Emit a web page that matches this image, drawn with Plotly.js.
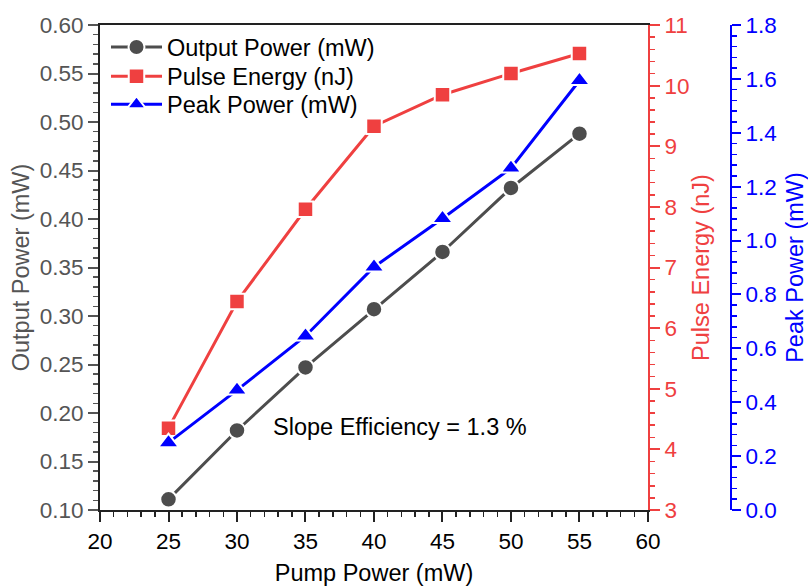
<!DOCTYPE html>
<html><head><meta charset="utf-8">
<script src="https://cdn.plot.ly/plotly-3.0.1.min.js"></script>
<style>body{margin:0;padding:0;background:#fff}#chart{width:808px;height:586px}</style>
</head><body><div id="chart"></div>
<script>
const pumpPower = [25, 30, 35, 40, 45, 50, 55];
const outputPower = [0.111, 0.182, 0.247, 0.307, 0.366, 0.432, 0.488];
const pulseEnergy = [4.35, 6.44, 7.96, 9.33, 9.85, 10.20, 10.53];
const peakPower = [0.25, 0.445, 0.646, 0.902, 1.082, 1.269, 1.594];
const seriesNames = ['Output Power (mW)', 'Pulse Energy (nJ)', 'Peak Power (mW)'];
const annotationText = 'Slope Efficiency = 1.3 %';

const FONT = 'Liberation Sans, Arial, sans-serif';
const GRAY = '#4d4d4d', RED = '#ef4040', BLUE = '#0000ff';
const TICK = 22.5, TXT = 23.5;

const traces = [
  {x: pumpPower, y: outputPower, name: seriesNames[0], type: 'scatter', mode: 'lines+markers', yaxis: 'y', legend: 'legend',
   line: {color: GRAY, width: 3}, marker: {symbol: 'circle', size: 16.5, color: GRAY, line: {color: '#fff', width: 2}}},
  {x: pumpPower, y: pulseEnergy, name: seriesNames[1], type: 'scatter', mode: 'lines+markers', yaxis: 'y2', legend: 'legend2',
   line: {color: RED, width: 3}, marker: {symbol: 'square', size: 15.5, color: RED, line: {color: '#fff', width: 2}}},
  {x: pumpPower, y: peakPower, name: seriesNames[2], type: 'scatter', mode: 'lines+markers', yaxis: 'y3', legend: 'legend3',
   line: {color: BLUE, width: 3}, marker: {symbol: 'triangle-up', size: 18, color: BLUE, line: {color: '#fff', width: 2}}}
];

function leg(y) {
  return {x: 0.0094, y: y, xanchor: 'left', yanchor: 'middle', bgcolor: 'rgba(0,0,0,0)',
          font: {family: FONT, size: TXT, color: '#000'}, itemwidth: 51};
}

const layout = {
  width: 808, height: 586,
  margin: {l: 100, r: 70, t: 24.5, b: 76},
  paper_bgcolor: '#fff', plot_bgcolor: '#fff',
  font: {family: FONT, size: TICK, color: '#000'},
  showlegend: true,
  legend: leg(0.9543), legend2: leg(0.8939), legend3: leg(0.8363),
  xaxis: {domain: [0, 0.8589], range: [20, 60], dtick: 5, tick0: 20,
    showgrid: false, zeroline: false, showline: true, linecolor: '#222', linewidth: 2, mirror: true,
    ticks: 'outside', ticklen: 10, tickwidth: 2, tickcolor: '#222',
    minor: {dtick: 1, ticks: 'outside', ticklen: 5, tickwidth: 1.5, tickcolor: '#222'},
    tickfont: {family: FONT, size: TICK, color: '#000'},
    title: {text: 'Pump Power (mW)', font: {family: FONT, size: TXT, color: '#000'}, standoff: 14},
    automargin: false},
  yaxis: {range: [0.10, 0.60], dtick: 0.05, tick0: 0.10, tickformat: '.2f',
    showgrid: false, zeroline: false, showline: true, linecolor: '#222', linewidth: 2,
    ticks: 'outside', ticklen: 10, tickwidth: 2, tickcolor: '#555',
    minor: {dtick: 0.01, ticks: 'outside', ticklen: 5, tickwidth: 1.5, tickcolor: '#555'},
    tickfont: {family: FONT, size: TICK, color: '#555'},
    title: {text: 'Output Power (mW)', font: {family: FONT, size: TXT, color: '#555'}, standoff: 3},
    automargin: false},
  yaxis2: {overlaying: 'y', side: 'right', anchor: 'x', range: [3, 11], dtick: 1, tick0: 3,
    showgrid: false, zeroline: false, showline: true, linecolor: RED, linewidth: 2,
    ticks: 'outside', ticklen: 10, tickwidth: 2, tickcolor: RED,
    minor: {dtick: 0.2, ticks: 'outside', ticklen: 5, tickwidth: 1.5, tickcolor: RED},
    tickfont: {family: FONT, size: TICK, color: RED},
    title: {text: 'Pulse Energy (nJ)', font: {family: FONT, size: TXT, color: RED}, standoff: 4},
    automargin: false},
  yaxis3: {overlaying: 'y', side: 'right', anchor: 'free', position: 0.989, range: [0, 1.8], dtick: 0.2, tick0: 0,
    tickformat: '.1f',
    showgrid: false, zeroline: false, showline: true, linecolor: BLUE, linewidth: 2,
    ticks: 'outside', ticklen: 9, tickwidth: 2, tickcolor: BLUE,
    minor: {dtick: 0.04, ticks: 'outside', ticklen: 5, tickwidth: 1.5, tickcolor: BLUE},
    tickfont: {family: FONT, size: TICK, color: BLUE},
    title: {text: 'Peak Power (mW)', font: {family: FONT, size: TXT, color: BLUE}, standoff: 10},
    automargin: false},
  annotations: [{x: 41.93, y: 0.1855, xref: 'x', yref: 'y', text: annotationText, showarrow: false,
    font: {family: FONT, size: TXT, color: '#000'}, xanchor: 'center', yanchor: 'middle'}]
};

Plotly.newPlot('chart', traces, layout, {displayModeBar: false, staticPlot: true});
</script></body></html>
